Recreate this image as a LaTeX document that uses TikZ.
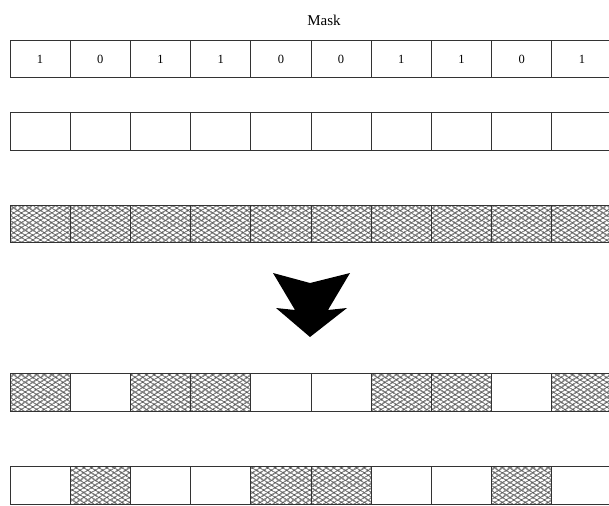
\documentclass[tikz,border=0pt]{standalone}
\usepackage{fontspec}
\setmainfont{Liberation Serif}
\usetikzlibrary{positioning,patterns.meta}

\begin{document}
\begin{tikzpicture}[x=1pt,y=-1pt,
  cell/.style={draw=black!80, line width=1pt, minimum width=60.2pt, minimum height=37.5pt, inner sep=0pt, outer sep=0pt, font=\fontsize{12.5}{14}\selectfont},
  hatch/.style={cell,
    preaction={pattern={Lines[angle=33,distance=4pt,line width=1.4pt]}, pattern color=black!72},
    pattern={Lines[angle=-33,distance=4pt,line width=1.4pt]}, pattern color=black!72},
  title/.style={font=\fontsize{15}{17}\selectfont}]
\useasboundingbox (0,0) rectangle (609,505);
% title
\node[title] (mask) at (324,20) {Mask};
% rows of cells
\foreach \b [count=\i] in {1,0,1,1,0,0,1,1,0,1} {
  \pgfmathsetmacro\x{10+60.2*(\i-0.5)}
  \node[cell] (m\i) at (\x,59) {\b};
  \node[cell] (a\i) at (\x,131.5) {};
  \node[hatch] (h\i) at (\x,224) {};
  \ifnum\b=1
    \node[hatch] (p\i) at (\x,392.5) {};
    \node[cell] (q\i) at (\x,485.5) {};
  \else
    \node[cell] (p\i) at (\x,392.5) {};
    \node[hatch] (q\i) at (\x,485.5) {};
  \fi
}
% big arrow
\fill (273,273) -- (310,283) -- (350,273) -- (328,310) -- (347,308) -- (310,337)
  -- (276,308) -- (295,310) -- cycle;
\end{tikzpicture}
\end{document}
